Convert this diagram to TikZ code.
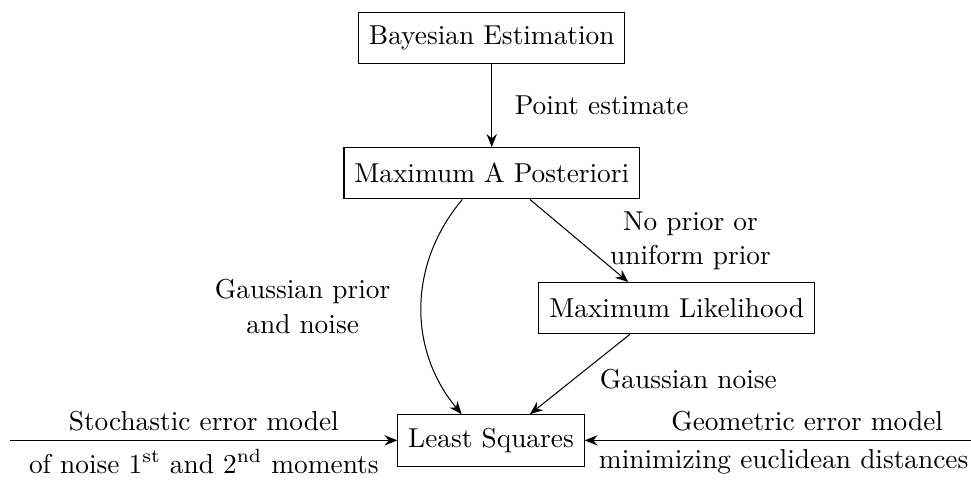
\documentclass[tikz,border=0pt]{standalone}
\usepackage{amsmath}
\usepackage{tikz}
\usetikzlibrary{positioning, arrows.meta}

\tikzset{
    estbox/.style={draw, rectangle, minimum height=0.7cm, inner xsep=4pt},
    flow/.style={-{Stealth[length=5pt, width=4pt]}},
    lbl/.style={align=center}
}

\begin{document}
\begin{tikzpicture}[font=\fontsize{10.6}{13.5}\selectfont]
    \useasboundingbox (0,0) rectangle (13.23,6.57);

    % 1. THE ESTIMATORS
    \node[estbox] (bay) at (6.70, 6.05) {Bayesian Estimation};
    \node[estbox] (map) at (6.70, 4.21) {Maximum A Posteriori};
    \node[estbox] (ml)  at (9.22, 2.37) {Maximum Likelihood};
    \node[estbox] (ls)  at (6.69, 0.57) {Least Squares};

    % 2. SIDE INPUTS
    \coordinate (leftin)  at (0.14, 0.57);
    \coordinate (rightin) at (13.23, 0.57);

    % 3. CONNECTORS
    \draw[flow] (bay) -- node[right=0.19cm] {Point estimate} (map);
    \draw[flow] ([xshift=0.52cm]map.south) -- node[lbl, right=0.3cm] {No prior or\\uniform prior} ([xshift=-0.66cm]ml.north);
    \draw[flow] ([xshift=-0.4cm]map.south) to[bend right=40] node[lbl, left=0.3cm] {Gaussian prior\\and noise} ([xshift=-0.4cm]ls.north);
    \draw[flow] ([xshift=-0.64cm]ml.south) -- node[right=0.15cm, yshift=-2pt] {Gaussian noise} ([xshift=0.53cm]ls.north);
    \draw[flow] (leftin) -- node[above] {Stochastic error model} node[below] {of noise 1\textsuperscript{st} and 2\textsuperscript{nd} moments} (ls);
    \draw[flow] (rightin) -- node[above, xshift=0.4cm] {Geometric error model} node[below, xshift=0.08cm] {minimizing euclidean distances} (ls);

\end{tikzpicture}
\end{document}
